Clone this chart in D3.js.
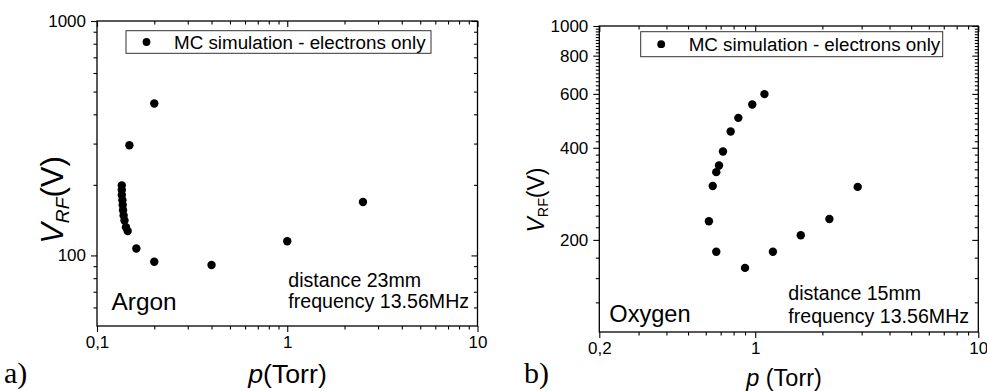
<!DOCTYPE html>
<html><head><meta charset="utf-8">
<script src="https://cdn.jsdelivr.net/npm/d3@7"></script>
<style>
html,body{margin:0;padding:0;background:#fff;}
svg{display:block;font-family:"Liberation Sans",Arial,sans-serif;}
</style></head><body>
<svg id="chart" width="987" height="391"></svg>
<script>
// Panel (a): argon, breakdown voltage vs pressure
const argonPressure = [0.135, 0.135, 0.135, 0.136, 0.1365, 0.137, 0.138, 0.1395, 0.142, 0.145, 0.148, 0.161, 0.2, 0.2, 0.4, 1.0, 2.5];
const argonVoltage  = [199, 190, 181, 172, 164, 156, 148, 141, 132, 127, 295, 107, 445, 94, 91, 115, 169];

// Panel (b): oxygen, breakdown voltage vs pressure
const oxygenPressure = [1.1, 0.97, 0.84, 0.776, 0.717, 0.688, 0.669, 0.645, 0.62, 0.669, 0.9, 1.2, 1.6, 2.15, 2.88];
const oxygenVoltage  = [599, 554, 501, 452, 389, 350, 333, 300, 230, 183, 162, 183, 207, 234, 298];

// Tick values and their printed labels
const argonXTicks  = [0.1, 1, 10];
const argonXLabels = ["0,1", "1", "10"];
const argonYTicks  = [100, 1000];
const argonYLabels = ["100", "1000"];
const oxygenXTicks  = [0.2, 1, 10];
const oxygenXLabels = ["0,2", "1", "10"];
const oxygenYTicks  = [200, 400, 600, 800, 1000];
const oxygenYLabels = ["200", "400", "600", "800", "1000"];

const legendLabel = "MC simulation - electrons only";

const svg = d3.select("#chart");

// minor ticks at every integer multiple inside each decade
function logMinor(lo, hi) {
  const out = [];
  for (let e = Math.floor(Math.log10(lo)); e < Math.ceil(Math.log10(hi)); e++) {
    for (let m = 2; m <= 9; m++) {
      const v = m * Math.pow(10, e);
      if (v > lo * 1.0001 && v < hi * 0.9999) out.push(+v.toPrecision(6));
    }
  }
  return out;
}

function drawPanel(c) {
  const x = d3.scaleLog().domain(c.xDomain).range([c.left, c.right]);
  const y = d3.scaleLog().domain(c.yDomain).range([c.bottom, c.top]);
  const g = svg.append("g");
  const labelOf = (ticks, labels) => d => labels[ticks.indexOf(d)];

  const add = (axis, tx, ty) => {
    const a = g.append("g").attr("transform", `translate(${tx},${ty})`).call(axis);
    a.select(".domain").remove();
    a.selectAll("line").attr("stroke", "#000").attr("stroke-width", 1.1);
    a.selectAll("text").attr("fill", "#000").style("font-size", "17px")
      .style("font-family", '"Liberation Sans", Arial, sans-serif');
    return a;
  };

  // bottom: outward ticks with labels
  add(d3.axisBottom(x).tickValues(c.xTicks).tickFormat(labelOf(c.xTicks, c.xLabels)).tickSize(6).tickPadding(4), 0, c.bottom);
  add(d3.axisBottom(x).tickValues(c.xMinor).tickFormat("").tickSize(3.5), 0, c.bottom);
  // top: inward mirror ticks
  add(d3.axisTop(x).tickValues(c.xTicks).tickFormat("").tickSize(-6), 0, c.top);
  add(d3.axisTop(x).tickValues(c.xMinor).tickFormat("").tickSize(-3.5), 0, c.top);
  // left: outward ticks with labels
  add(d3.axisLeft(y).tickValues(c.yTicks).tickFormat(labelOf(c.yTicks, c.yLabels)).tickSize(6).tickPadding(5), c.left, 0);
  add(d3.axisLeft(y).tickValues(c.yMinor).tickFormat("").tickSize(3.5), c.left, 0);
  // right: inward mirror ticks
  add(d3.axisRight(y).tickValues(c.yTicks).tickFormat("").tickSize(-6), c.right, 0);
  add(d3.axisRight(y).tickValues(c.yMinor).tickFormat("").tickSize(-3.5), c.right, 0);

  // frame
  g.append("rect").attr("x", c.left).attr("y", c.top)
    .attr("width", c.right - c.left).attr("height", c.bottom - c.top)
    .attr("fill", "none").attr("stroke", "#000").attr("stroke-width", 1.3);

  // data points
  g.append("g").selectAll("circle").data(c.p.map((p, i) => [p, c.v[i]])).join("circle")
    .attr("cx", d => x(d[0])).attr("cy", d => y(d[1])).attr("r", 4.2).attr("fill", "#000");

  // legend
  const L = c.legend;
  g.append("rect").attr("x", L.x).attr("y", L.y).attr("width", L.w).attr("height", L.h)
    .attr("fill", "#fff").attr("stroke", "#333").attr("stroke-width", 1);
  g.append("circle").attr("cx", L.x + 20.5).attr("cy", L.y + L.h / 2).attr("r", 3.9).attr("fill", "#000");
  g.append("text").attr("x", L.x + 48).attr("y", L.y + L.h / 2 + 6.6)
    .style("font-size", "18.8px").text(legendLabel);

  // gas name and operating conditions
  g.append("text").attr("x", c.gas.x).attr("y", c.gas.y).style("font-size", c.gas.size + "px").text(c.gas.text);
  c.notes.forEach(n => g.append("text").attr("x", n.x).attr("y", n.y).style("font-size", "19.6px").text(n.text));

  // x title
  const xt = g.append("text").attr("x", c.xTitle.x).attr("y", c.xTitle.y)
    .attr("text-anchor", "middle").style("font-size", c.xTitle.size + "px");
  xt.append("tspan").style("font-style", "italic").text("p");
  xt.append("tspan").text(c.xTitle.rest);

  // y title, rotated
  const yt = g.append("text").attr("transform", `translate(${c.yTitle.x},${c.yTitle.y}) rotate(-90)`)
    .attr("text-anchor", "middle").style("font-size", c.yTitle.size + "px");
  yt.append("tspan").style("font-style", "italic").text("V");
  yt.append("tspan").attr("dy", "0.3em").style("font-size", (c.yTitle.size * 0.62) + "px")
    .style("font-style", c.yTitle.subItalic ? "italic" : "normal").text("RF");
  yt.append("tspan").attr("dy", "-0.186em").text("(V)");

  // panel letter
  svg.append("text").attr("x", c.letter.x).attr("y", c.letter.y)
    .style("font-family", '"Liberation Serif", "Times New Roman", serif').style("font-size", "30px")
    .text(c.letter.text);
}

drawPanel({
  xDomain: [0.1, 10], yDomain: [50, 1000],
  left: 97, right: 477.5, top: 21, bottom: 326,
  xTicks: argonXTicks, xLabels: argonXLabels, xMinor: logMinor(0.1, 10),
  yTicks: argonYTicks, yLabels: argonYLabels, yMinor: logMinor(50, 1000).filter(v => v >= 60),
  p: argonPressure, v: argonVoltage,
  legend: { x: 126, y: 30.7, w: 305, h: 22.6 },
  gas: { text: "Argon", x: 111.5, y: 309.5, size: 24.4 },
  notes: [{ text: "distance 23mm", x: 288.3, y: 287 }, { text: "frequency 13.56MHz", x: 288.3, y: 308 }],
  xTitle: { rest: "(Torr)", x: 287.5, y: 383, size: 26.7 },
  yTitle: { x: 63, y: 200, size: 31, subItalic: true },
  letter: { text: "a)", x: 4, y: 383 }
});

const oxygenYMinor = [125, 150, 175];
for (let v = 220; v < 1000; v += 20) if (v % 200 !== 0) oxygenYMinor.push(v);

drawPanel({
  xDomain: [0.2, 10], yDomain: [100, 1000],
  left: 599.3, right: 978.3, top: 26, bottom: 332,
  xTicks: oxygenXTicks, xLabels: oxygenXLabels, xMinor: logMinor(0.2, 10),
  yTicks: oxygenYTicks, yLabels: oxygenYLabels, yMinor: oxygenYMinor,
  p: oxygenPressure, v: oxygenVoltage,
  legend: { x: 640.7, y: 31.7, w: 302, h: 25 },
  gas: { text: "Oxygen", x: 609.3, y: 322, size: 23.6 },
  notes: [{ text: "distance 15mm", x: 788.3, y: 299.5 }, { text: "frequency 13.56MHz", x: 788.3, y: 322.5 }],
  xTitle: { rest: " (Torr)", x: 784, y: 386, size: 23.5 },
  yTitle: { x: 544, y: 200, size: 23, subItalic: false },
  letter: { text: "b)", x: 524, y: 383 }
});
</script>
</body></html>
